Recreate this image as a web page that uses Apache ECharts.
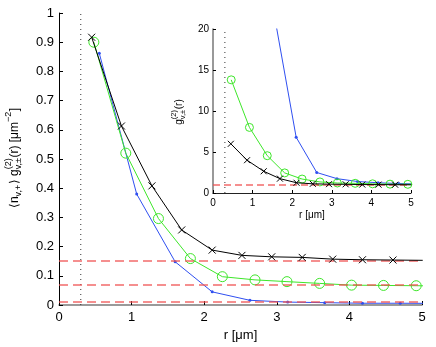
<!DOCTYPE html>
<html><head><meta charset="utf-8">
<script src="https://cdn.jsdelivr.net/npm/echarts@6/dist/echarts.min.js"></script>
<style>html,body{margin:0;padding:0;background:#fff}#c{width:436px;height:347px}</style>
</head><body><div id="c"></div>
<script>
// ---- data (main plot) ----
const blackR = [0.45, 0.86, 1.28, 1.69, 2.11, 2.52, 2.93, 3.35, 3.77, 4.18, 4.60, 5.01];
const blackY = [0.917, 0.613, 0.408, 0.257, 0.188, 0.170, 0.165, 0.163, 0.157, 0.155, 0.154, 0.153];
const greenR = [0.48, 0.92, 1.37, 1.81, 2.25, 2.70, 3.14, 3.59, 4.03, 4.47, 4.92, 5.36];
const greenY = [0.900, 0.520, 0.296, 0.159, 0.097, 0.086, 0.080, 0.074, 0.068, 0.067, 0.066, 0.065];
const blueR = [0.555, 1.07, 1.60, 2.11, 2.63, 3.15, 3.66, 4.18, 4.70, 5.21];
const blueY = [0.862, 0.380, 0.148, 0.045, 0.016, 0.010, 0.008, 0.006, 0.006, 0.0055];
const mainLevels = [0.153, 0.065, 0.005];
const cutoffR = 0.3;
// ---- data (inset) ----
const blackInY = [6.0, 4.0, 2.65, 1.75, 1.25, 1.12, 1.08, 1.06, 1.03, 1.02, 1.01, 1.0];
const greenInR = [0.46, 0.92, 1.37, 1.81, 2.25, 2.70, 3.14, 3.59, 4.03, 4.47, 4.92, 5.36];
const greenInY = [13.8, 8.0, 4.55, 2.45, 1.7, 1.35, 1.22, 1.18, 1.12, 1.08, 1.06, 1.05];
const blueInR = [0.555, 1.07, 1.60, 2.10, 2.62, 3.13, 3.65, 4.17, 4.69, 5.21];
const blueInY = [160, 70, 20.3, 6.8, 2.5, 1.75, 1.4, 1.25, 1.15, 1.1];
const insetLevel = 1;
const mainXTicks = [0, 1, 2, 3, 4, 5];
const mainYTicks = [0, 0.1, 0.2, 0.3, 0.4, 0.5, 0.6, 0.7, 0.8, 0.9, 1];
const insetYTicks = [0, 5, 10, 15, 20];

const FONT = '"Liberation Sans", Arial, Helvetica, sans-serif';
const zip = (a, b) => a.map((v, i) => [v, b[i]]);
const XPATH = 'path://M0,0L10,10M10,0L0,10';
const GREEN = '#3ee62a', BLUE = '#2f4ff0', RED = 'rgba(240,80,80,0.85)';

const ctx = document.createElement('canvas').getContext('2d');
function tw(t, size) { ctx.font = size + 'px ' + FONT; return ctx.measureText(t).width; }

// build a rotated math label (reads bottom to top)
function mathLabel(pieces, base, script, bx, cy, supOff, subOff) {
  let parts = [], x = 0;
  pieces.forEach(p => {
    if (p.stack) {
      const w = Math.max(tw(p.stack[0], script), tw(p.stack[1], script));
      parts.push({ t: p.stack[0], x: x, y: supOff, s: script });
      parts.push({ t: p.stack[1], x: x, y: subOff, s: script });
      x += w + 0.5;
    } else {
      const s = p.k === 'n' ? base : script;
      const y = p.k === 'sup' ? supOff : (p.k === 'sub' ? subOff : 0);
      parts.push({ t: p.t, x: x, y: y, s: s });
      x += tw(p.t, s) + (p.k === 'n' ? 0 : 0.5);
    }
  });
  const total = x;
  return {
    type: 'group', x: bx, y: cy + total / 2, rotation: Math.PI / 2, silent: true,
    children: parts.map(p => ({
      type: 'text',
      style: { text: p.t, x: p.x, y: p.y, font: p.s + 'px ' + FONT, fill: '#000',
               align: 'left', verticalAlign: 'middle' }
    }))
  };
}

const mainLabel = mathLabel([
  { t: '⟨n', k: 'n' }, { t: 'v,+', k: 'sub' }, { t: '⟩ g', k: 'n' },
  { stack: ['(2)', 'v,±'] }, { t: '(r) [μm', k: 'n' }, { t: '−2', k: 'sup' }, { t: ']', k: 'n' }
], 12, 9, 15, 158, -6, 4);
const insetLabel = mathLabel([
  { t: 'g', k: 'n' }, { stack: ['(2)', 'v,±'] }, { t: '(r)', k: 'n' }
], 10, 7.5, 179, 112, -5, 3.5);

const axisCommon = (size) => ({
  axisTick: { inside: true, length: 4, lineStyle: { color: '#000' } },
  axisLabel: { color: '#000', fontFamily: FONT, fontSize: size },
  splitLine: { show: false }
});

const chart = echarts.init(document.getElementById('c'), null, { renderer: 'canvas' });
chart.setOption({
  animation: false,
  backgroundColor: '#fff',
  grid: [
    { left: 59, right: 14, top: 13, bottom: 42 },
    { left: 213, right: 25, top: 29, bottom: 154 }
  ],
  xAxis: [
    Object.assign(axisCommon(13), {
      gridIndex: 0, type: 'value', min: 0, max: 5, interval: 1,
      axisLine: { lineStyle: { color: '#7a7a7a', width: 1.5 } },
      name: 'r [μm]', nameLocation: 'middle', nameGap: 21,
      nameTextStyle: { color: '#000', fontFamily: FONT, fontSize: 13 },
      axisLabel: { color: '#000', fontFamily: FONT, fontSize: 13, margin: 6 }
    }),
    Object.assign(axisCommon(10), {
      gridIndex: 1, type: 'value', min: 0, max: 5, interval: 1,
      axisLine: { lineStyle: { color: '#222', width: 1 } },
      name: 'r [μm]', nameLocation: 'middle', nameGap: 17,
      nameTextStyle: { color: '#000', fontFamily: FONT, fontSize: 10 },
      axisLabel: { color: '#000', fontFamily: FONT, fontSize: 10, margin: 5 },
      axisTick: { inside: true, length: 3, lineStyle: { color: '#000' } }
    })
  ],
  yAxis: [
    Object.assign(axisCommon(13), {
      gridIndex: 0, type: 'value', min: 0, max: 1, interval: 0.1,
      axisLine: { show: true, lineStyle: { color: '#000', width: 1 } },
      axisLabel: { color: '#000', fontFamily: FONT, fontSize: 13, margin: 5 }
    }),
    Object.assign(axisCommon(10), {
      gridIndex: 1, type: 'value', min: 0, max: 20, interval: 5,
      axisLine: { show: true, lineStyle: { color: '#777', width: 1.5 } },
      axisLabel: { color: '#000', fontFamily: FONT, fontSize: 10, margin: 4 },
      axisTick: { inside: true, length: 3, lineStyle: { color: '#000' } }
    })
  ],
  graphic: [mainLabel, insetLabel],
  series: [
    // main
    { type: 'line', xAxisIndex: 0, yAxisIndex: 0, data: zip([cutoffR, cutoffR], [0, 1]),
      symbol: 'none', lineStyle: { color: '#333', width: 1, type: [1, 4] }, silent: true, z: 1 },
    { type: 'line', xAxisIndex: 0, yAxisIndex: 0, data: zip(blueR, blueY), clip: true,
      symbol: 'circle', symbolSize: 3, lineStyle: { color: BLUE, width: 1 },
      itemStyle: { color: BLUE }, z: 3,
      markLine: { silent: true, symbol: 'none', label: { show: false },
        lineStyle: { color: RED, width: 1.5, type: [9, 5] },
        data: mainLevels.map(v => ({ yAxis: v })) } },
    { type: 'line', xAxisIndex: 0, yAxisIndex: 0, data: zip(greenR, greenY), clip: true,
      symbol: 'circle', symbolSize: 10, lineStyle: { color: GREEN, width: 1 },
      itemStyle: { color: 'rgba(0,0,0,0)', borderColor: GREEN, borderWidth: 1 }, z: 4 },
    { type: 'line', xAxisIndex: 0, yAxisIndex: 0, data: zip(blackR, blackY), clip: true,
      symbol: XPATH, symbolSize: 7, lineStyle: { color: '#000', width: 1 },
      itemStyle: { color: '#000', borderColor: '#000', borderWidth: 1 }, z: 5 },
    // inset
    { type: 'line', xAxisIndex: 1, yAxisIndex: 1, data: zip([cutoffR, cutoffR], [0, 20]),
      symbol: 'none', lineStyle: { color: '#333', width: 1, type: [1, 4] }, silent: true, z: 1 },
    { type: 'line', xAxisIndex: 1, yAxisIndex: 1, data: zip(blueInR, blueInY), clip: true,
      symbol: 'circle', symbolSize: 3, lineStyle: { color: BLUE, width: 1 },
      itemStyle: { color: BLUE }, z: 3,
      markLine: { silent: true, symbol: 'none', label: { show: false },
        lineStyle: { color: RED, width: 1.5, type: [7, 4] },
        data: [{ yAxis: insetLevel }] } },
    { type: 'line', xAxisIndex: 1, yAxisIndex: 1, data: zip(greenInR, greenInY), clip: true,
      symbol: 'circle', symbolSize: 8, lineStyle: { color: GREEN, width: 1 },
      itemStyle: { color: 'rgba(0,0,0,0)', borderColor: GREEN, borderWidth: 1 }, z: 4 },
    { type: 'line', xAxisIndex: 1, yAxisIndex: 1, data: zip(blackR, blackInY), clip: true,
      symbol: XPATH, symbolSize: 6, lineStyle: { color: '#000', width: 1 },
      itemStyle: { color: '#000', borderColor: '#000', borderWidth: 1 }, z: 5 }
  ]
});
</script></body></html>
